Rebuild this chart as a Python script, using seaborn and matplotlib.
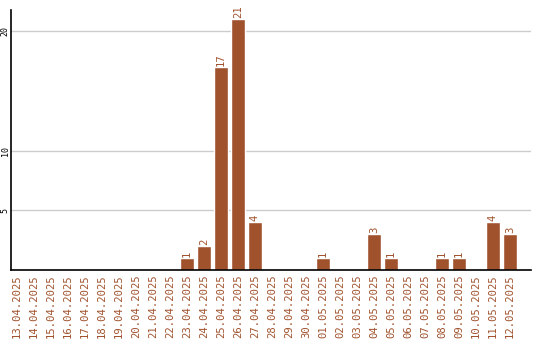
import matplotlib
matplotlib.use("Agg")
import matplotlib.pyplot as plt
import seaborn as sns
import pandas as pd

dates = ["13.04.2025", "14.04.2025", "15.04.2025", "16.04.2025", "17.04.2025",
         "18.04.2025", "19.04.2025", "20.04.2025", "21.04.2025", "22.04.2025",
         "23.04.2025", "24.04.2025", "25.04.2025", "26.04.2025", "27.04.2025",
         "28.04.2025", "29.04.2025", "30.04.2025", "01.05.2025", "02.05.2025",
         "03.05.2025", "04.05.2025", "05.05.2025", "06.05.2025", "07.05.2025",
         "08.05.2025", "09.05.2025", "10.05.2025", "11.05.2025", "12.05.2025"]
counts = [0, 0, 0, 0, 0, 0, 0, 0, 0, 0,
          1, 2, 17, 21, 4, 0, 0, 0, 1, 0,
          0, 3, 1, 0, 0, 1, 1, 0, 4, 3]
y_ticks = [5, 10, 20]

color = "#A0522D"
df = pd.DataFrame({"date": dates, "count": counts})

sns.set_style("white")
plt.rcParams["font.family"] = ["DejaVu Sans Mono", "DejaVu Sans"]

fig = plt.figure(figsize=(5.4, 3.4), dpi=100)
ax = fig.add_axes([11 / 540, 70 / 340, 520 / 540, 260 / 340])

sns.barplot(data=df, x="date", y="count", color=color, saturation=1,
            width=0.84, ax=ax, zorder=3)

for i, v in enumerate(counts):
    if v > 0:
        ax.text(i, v + 0.1, str(v), rotation=90, ha="center", va="bottom",
                color=color, fontsize=7.6)

ax.set_xlim(-0.35, 30.24)
ax.set_ylim(0, 21.76)
ax.set_yticks(y_ticks)
ax.set_yticklabels([str(t) for t in y_ticks], rotation=90, va="center",
                   fontsize=6, color="black")
ax.tick_params(axis="y", length=0, pad=1)
ax.tick_params(axis="x", length=0, pad=3, labelrotation=90, labelsize=7.6,
               labelcolor=color)
ax.set_xlabel("")
ax.set_ylabel("")
ax.yaxis.grid(True, color="#cccccc", linewidth=1, zorder=0)
ax.xaxis.grid(False)
for s in ["top", "right"]:
    ax.spines[s].set_visible(False)
for s in ["left", "bottom"]:
    ax.spines[s].set_color("black")
    ax.spines[s].set_linewidth(1.2)
    ax.spines[s].set_zorder(5)

fig.savefig("out.png", dpi=100)
